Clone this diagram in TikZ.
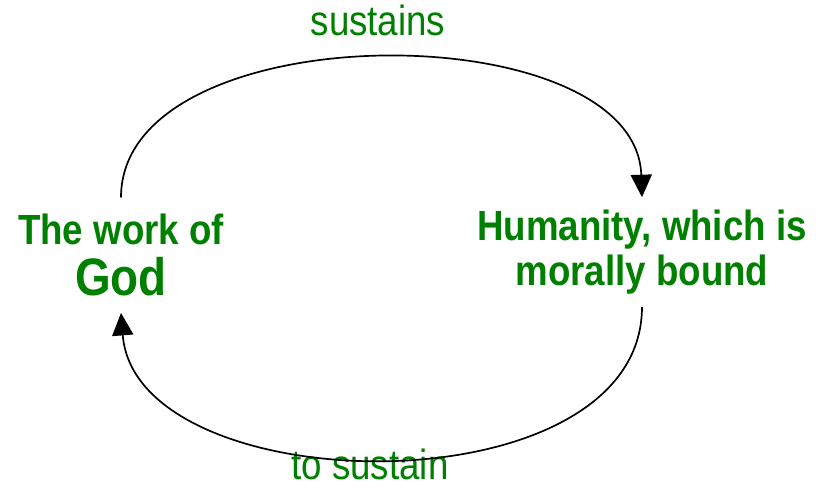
\documentclass[tikz,border=0pt]{standalone}
\usepackage{fontspec}
\setmainfont[FakeStretch=0.87]{Liberation Sans}
\usetikzlibrary{arrows.meta, positioning}

\definecolor{darkgreen}{RGB}{0,128,0}

\tikzset{
    term/.style={text=darkgreen, font=\bfseries\fontsize{30}{32}\selectfont, align=center, inner sep=0pt, outer sep=12pt},
    verb/.style={text=darkgreen, font=\fontsize{30}{32}\selectfont, anchor=base, inner sep=0pt},
    cycle/.style={line width=1.2pt, -{Triangle[length=16pt, width=15pt]}}
}

\begin{document}
\begin{tikzpicture}

    \useasboundingbox (0, 0) rectangle (20.4, -12.2);

    \node[term] (god) at (3.025, -6.38) {The work of\\[4pt]{\fontsize{37.5}{38}\selectfont God}};
    \node[term] (humanity) at (16.05, -6.3) {Humanity, which is\\morally bound};

    \node[verb] (sustains) at (9.45, -0.88) {sustains};
    \node[verb] (tosustain) at (9.25, -11.98) {to sustain};

    % the two halves of the cycle
    \draw[cycle] (god.north) .. controls (3.025, -0.3) and (15.9, -0.3) .. ([yshift=-3pt]humanity.north);
    \draw[cycle] ([yshift=3pt]humanity.south) .. controls (16.05, -12.8) and (3.4, -12.6) .. (god.south);

  \end{tikzpicture}
\end{document}
